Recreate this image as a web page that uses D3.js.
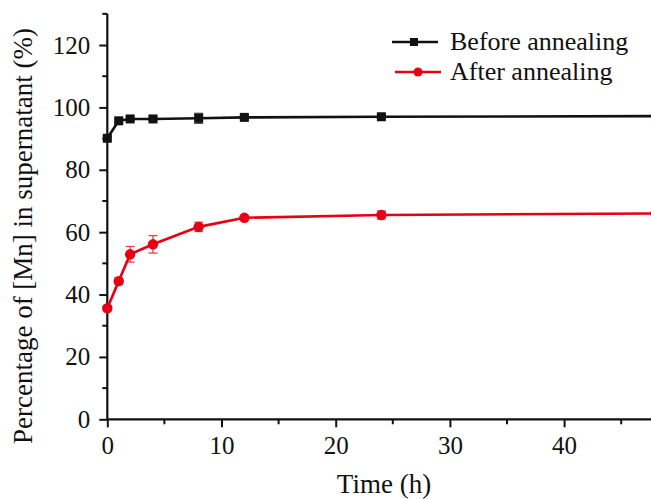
<!DOCTYPE html>
<html>
<head>
<meta charset="utf-8">
<script src="https://cdn.jsdelivr.net/npm/d3@7"></script>
<style>
  html, body { margin: 0; padding: 0; background: #fff; }
  svg { display: block; }
  text { font-family: "Liberation Serif", "Times New Roman", serif; fill: #111; }
</style>
</head>
<body>
<svg id="chart" width="651" height="499"></svg>
<script>
// Release of Mn into the supernatant over time
const timeH = [0, 1, 2, 4, 8, 12, 24, 48];
const beforeAnnealing = [90.1, 95.7, 96.3, 96.3, 96.5, 96.8, 97.0, 97.2];
const beforeErr = [0.6, 0.6, 0.6, 0.6, 1.6, 0.6, 0.7, 0.6];
const afterAnnealing = [35.6, 44.3, 52.9, 56.1, 61.7, 64.6, 65.5, 66.0];
const afterErr = [0.8, 1.0, 2.5, 2.8, 1.5, 0.6, 1.3, 0.8];
const seriesNames = ["Before annealing", "After annealing"];
const xTicks = [0, 10, 20, 30, 40];
const yTicks = [0, 20, 40, 60, 80, 100, 120];

const svg = d3.select("#chart");
const x0 = 107.3, y0 = 419.3;
const x = d3.scaleLinear().domain([0, 50]).range([x0, x0 + 50 * 11.42]);
const y = d3.scaleLinear().domain([0, 130]).range([y0, y0 - 130 * 3.119]);

const black = "#111", red = "#e60012";
const tickFont = 25;

// axes: major ticks outside, minor ticks shorter
const xAxis = svg.append("g").attr("transform", `translate(0,${y0})`);
xAxis.call(d3.axisBottom(x).tickValues(xTicks).tickSize(8).tickPadding(9).tickFormat(d3.format("d")));
xAxis.append("g").selectAll("line").data([5, 15, 25, 35, 45]).join("line")
  .attr("x1", d => x(d)).attr("x2", d => x(d)).attr("y1", 0).attr("y2", 5)
  .attr("stroke", black).attr("stroke-width", 2);

const yAxis = svg.append("g").attr("transform", `translate(${x0},0)`);
yAxis.call(d3.axisLeft(y).tickValues(yTicks).tickSize(8).tickPadding(9).tickFormat(d3.format("d")));
yAxis.append("g").selectAll("line").data([10, 30, 50, 70, 90, 110, 130]).join("line")
  .attr("y1", d => y(d)).attr("y2", d => y(d)).attr("x1", 0).attr("x2", -5)
  .attr("stroke", black).attr("stroke-width", 2);

[xAxis, yAxis].forEach(g => {
  g.select(".domain").attr("stroke", black).attr("stroke-width", 2.2);
  g.selectAll(".tick line").attr("stroke", black).attr("stroke-width", 2);
  g.selectAll(".tick text").attr("font-size", tickFont).attr("fill", "#111")
    .style("font-family", '"Liberation Serif", serif');
});
xAxis.selectAll(".domain").attr("d", `M${x0},0H${x(50)}`);
yAxis.selectAll(".domain").attr("d", `M0,${y0}V${y(130)}`);

// axis titles
svg.append("text").attr("x", 384).attr("y", 493).attr("text-anchor", "middle")
  .attr("font-size", 27).text("Time (h)");
svg.append("text").attr("transform", `translate(32,${236}) rotate(-90)`)
  .attr("text-anchor", "middle").attr("font-size", 27)
  .text("Percentage of [Mn] in supernatant (%)");

const line = d3.line().x((d, i) => x(timeH[i])).y(d => y(d));

function drawSeries(vals, errs, color, shape) {
  const g = svg.append("g");
  g.append("path").datum(vals).attr("d", line).attr("fill", "none")
    .attr("stroke", color).attr("stroke-width", 2.6);
  const eb = g.append("g").attr("stroke", color).attr("stroke-width", 1.3).attr("opacity", 0.75);
  vals.forEach((v, i) => {
    const cx = x(timeH[i]);
    eb.append("line").attr("x1", cx).attr("x2", cx).attr("y1", y(v - errs[i])).attr("y2", y(v + errs[i]));
    [v - errs[i], v + errs[i]].forEach(e => eb.append("line")
      .attr("x1", cx - 4.5).attr("x2", cx + 4.5).attr("y1", y(e)).attr("y2", y(e)));
  });
  if (shape === "square") {
    g.selectAll("rect").data(vals).join("rect")
      .attr("x", (d, i) => x(timeH[i]) - 4.5).attr("y", d => y(d) - 4.5)
      .attr("width", 9).attr("height", 9).attr("fill", color);
  } else {
    g.selectAll("circle").data(vals).join("circle")
      .attr("cx", (d, i) => x(timeH[i])).attr("cy", d => y(d)).attr("r", 5.2).attr("fill", color);
  }
}
drawSeries(beforeAnnealing, beforeErr, black, "square");
drawSeries(afterAnnealing, afterErr, red, "circle");

// legend
const legend = svg.append("g");
const legendRows = [
  { name: seriesNames[0], color: black, shape: "square", y: 42, x1: 392, x2: 438, m: 414 },
  { name: seriesNames[1], color: red, shape: "circle", y: 72, x1: 395, x2: 441, m: 418 }
];
legendRows.forEach(r => {
  legend.append("line").attr("x1", r.x1).attr("x2", r.x2).attr("y1", r.y).attr("y2", r.y)
    .attr("stroke", r.color).attr("stroke-width", 2.6);
  if (r.shape === "square") {
    legend.append("rect").attr("x", r.m - 4).attr("y", r.y - 4).attr("width", 8).attr("height", 8).attr("fill", r.color);
  } else {
    legend.append("circle").attr("cx", r.m).attr("cy", r.y).attr("r", 4.5).attr("fill", r.color);
  }
  legend.append("text").attr("x", 450).attr("y", r.y + 8).attr("font-size", 26).text(r.name);
});
</script>
</body>
</html>
